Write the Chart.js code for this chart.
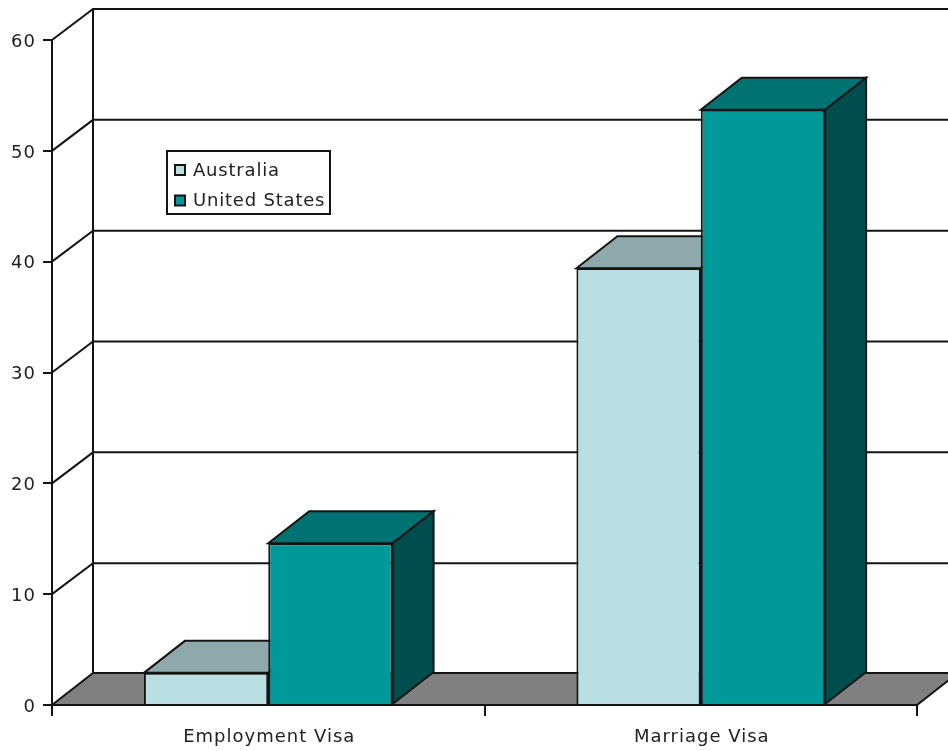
<!doctype html>
<html lang="en">

<head>
    <title>Visa chart</title>
    <meta charset="utf-8" />
    <script src="https://cdn.jsdelivr.net/npm/chart.js@4"></script>
    <style>
        html, body { margin: 0; padding: 0; background: #fff; overflow: hidden; }
        canvas { display: block; }
    </style>
</head>

<body>
    <canvas id="myChart" width="948" height="751"></canvas>

    <script>
        const categories = ['Employment Visa', 'Marriage Visa'];
        const australia = [2.9, 39.4];
        const unitedStates = [14.6, 53.7];
        const seriesNames = ['Australia', 'United States'];

        const frontColors = ['#b9dfe3', '#009999'];
        const topColors = ['#8fa8ab', '#007272'];
        const sideColors = ['#5c7072', '#004d4d'];
        const lineColor = '#141414';
        const depthX = 41;
        const depthY = 32;
        const wallDepthY = 31;

        function poly(ctx, pts, fill) {
            ctx.beginPath();
            pts.forEach((p, i) => i ? ctx.lineTo(p[0], p[1]) : ctx.moveTo(p[0], p[1]));
            ctx.closePath();
            if (fill) {
                ctx.fillStyle = fill;
                ctx.fill();
            }
            ctx.stroke();
        }

        // the 3d box: back wall, floor, then top and side faces of the bars
        const boxPlugin = {
            id: 'box3d',
            beforeDraw(chart) {
                chart.ctx.letterSpacing = '1px';
            },
            beforeDatasetsDraw(chart) {
                const ctx = chart.ctx;
                const area = chart.chartArea;
                const y = chart.scales.y;
                ctx.save();
                ctx.strokeStyle = lineColor;
                ctx.lineWidth = 2;

                poly(ctx, [
                    [area.left, area.bottom],
                    [area.left + depthX, area.bottom - depthY],
                    [area.right + depthX, area.bottom - depthY],
                    [area.right, area.bottom]
                ], '#808080');

                y.ticks.forEach((t, i) => {
                    if (i === 0) return;
                    const py = y.getPixelForTick(i);
                    ctx.beginPath();
                    ctx.moveTo(area.left, py);
                    ctx.lineTo(area.left + depthX, py - wallDepthY);
                    ctx.lineTo(area.right + depthX, py - wallDepthY);
                    ctx.stroke();
                });
                ctx.beginPath();
                ctx.moveTo(area.left + depthX, area.top - wallDepthY);
                ctx.lineTo(area.left + depthX, area.bottom - depthY);
                ctx.stroke();

                chart.data.datasets.forEach((ds, d) => {
                    chart.getDatasetMeta(d).data.forEach(bar => {
                        const l = bar.x - bar.width / 2;
                        const r = bar.x + bar.width / 2;
                        poly(ctx, [[l, bar.y], [l + depthX, bar.y - depthY], [r + depthX, bar.y - depthY], [r, bar.y]], topColors[d]);
                        poly(ctx, [[r, bar.y], [r + depthX, bar.y - depthY], [r + depthX, bar.base - depthY], [r, bar.base]], sideColors[d]);
                    });
                });
                ctx.restore();
            },
            afterDraw(chart) {
                const ctx = chart.ctx;
                ctx.save();
                ctx.strokeStyle = lineColor;
                ctx.lineWidth = 2;
                ctx.fillStyle = '#fff';
                ctx.fillRect(167, 151, 163, 63);
                ctx.strokeRect(167, 151, 163, 63);
                ctx.font = '18px "DejaVu Sans"';
                ctx.letterSpacing = '0.8px';
                ctx.textBaseline = 'middle';
                ctx.textAlign = 'left';
                seriesNames.forEach((name, i) => {
                    const top = 165 + i * 30.5;
                    ctx.fillStyle = frontColors[i];
                    ctx.fillRect(175, top, 10, 10);
                    ctx.strokeRect(175, top, 10, 10);
                    ctx.fillStyle = '#222';
                    ctx.fillText(name, 193, top + 6);
                });
                ctx.restore();
            }
        };

        const ctx = document.getElementById('myChart').getContext('2d');
        new Chart(ctx, {
            type: 'bar',
            data: {
                labels: categories,
                datasets: [
                    { label: seriesNames[0], data: australia, backgroundColor: frontColors[0] },
                    { label: seriesNames[1], data: unitedStates, backgroundColor: frontColors[1] }
                ]
            },
            options: {
                responsive: false,
                animation: false,
                layout: { padding: { top: 40, right: 31, left: 0, bottom: 0 } },
                datasets: {
                    bar: {
                        borderColor: lineColor,
                        borderWidth: 2,
                        barPercentage: 1,
                        categoryPercentage: 0.575
                    }
                },
                plugins: {
                    legend: { display: false },
                    tooltip: { enabled: false }
                },
                scales: {
                    x: {
                        afterFit: s => { s.height = 46; },
                        border: { color: lineColor, width: 2 },
                        grid: { drawOnChartArea: false, color: lineColor, lineWidth: 2, tickLength: 11 },
                        ticks: { color: '#222', font: { family: 'DejaVu Sans', size: 18 }, padding: 11, labelOffset: 1, maxRotation: 0 }
                    },
                    y: {
                        min: 0,
                        max: 60,
                        afterFit: s => { s.width = 52; },
                        border: { color: lineColor, width: 2 },
                        grid: { drawOnChartArea: false, color: lineColor, lineWidth: 2, tickLength: 9 },
                        ticks: { stepSize: 10, color: '#222', font: { family: 'DejaVu Sans', size: 18 }, padding: 7, labelOffset: 2 }
                    }
                }
            },
            plugins: [boxPlugin]
        });
    </script>
</body>

</html>
